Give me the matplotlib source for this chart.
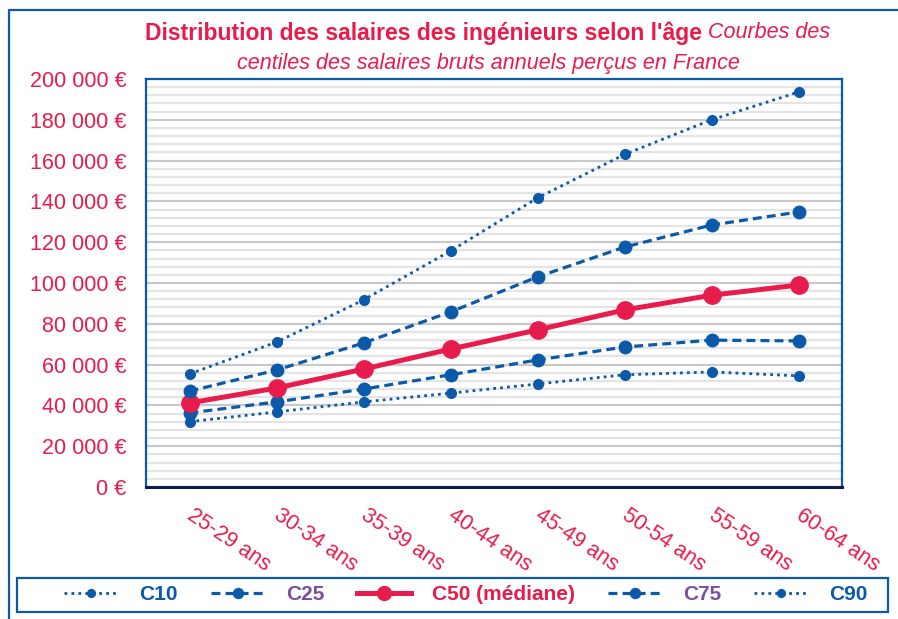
import matplotlib
matplotlib.use("Agg")
import matplotlib.pyplot as plt
import matplotlib.transforms as mtransforms
from matplotlib.lines import Line2D
from matplotlib.patches import Rectangle
from matplotlib.ticker import MultipleLocator, FuncFormatter

# données
ages = ["25-29 ans", "30-34 ans", "35-39 ans", "40-44 ans",
        "45-49 ans", "50-54 ans", "55-59 ans", "60-64 ans"]
c10 = [32000, 36800, 41700, 46000, 50500, 55000, 56400, 54500]
c25 = [36300, 41700, 48000, 55000, 62300, 68600, 72000, 71600]
c50 = [41200, 48500, 57800, 67600, 77000, 86800, 94000, 99000]
c75 = [47000, 57300, 70600, 85800, 103000, 117600, 128400, 134800]
c90 = [55400, 71000, 91700, 115700, 141700, 163000, 180000, 193600]

RED = "#e81c4c"
BLUE = "#0b5aa9"
PURPLE = "#7a4f9f"

plt.rcParams['font.family'] = ['Liberation Sans', 'DejaVu Sans']
TITLE_FONT = ['Liberation Sans Narrow', 'Liberation Sans', 'DejaVu Sans']

fig = plt.figure(figsize=(8.98, 6.19), dpi=100)
ax = fig.add_axes([146 / 898, 132 / 619, 696 / 898, 408 / 619])

x = range(len(ages))
dot = (1, 1.5)
dash = (2.8, 1.6)
ax.plot(x, c10, color=BLUE, lw=2, linestyle=(0, dot), marker='o', ms=7, label="C10")
ax.plot(x, c25, color=BLUE, lw=2.3, linestyle=(0, dash), marker='o', ms=9, label="C25")
ax.plot(x, c50, color=RED, lw=3.6, marker='o', ms=12.5, label="C50 (médiane)")
ax.plot(x, c75, color=BLUE, lw=2.3, linestyle=(0, dash), marker='o', ms=9, label="C75")
ax.plot(x, c90, color=BLUE, lw=2, linestyle=(0, dot), marker='o', ms=7, label="C90")

ax.set_xlim(-0.5, len(ages) - 0.5)
ax.set_ylim(0, 200000)
ax.yaxis.set_major_locator(MultipleLocator(20000))
ax.yaxis.set_minor_locator(MultipleLocator(4000))
ax.yaxis.set_major_formatter(FuncFormatter(lambda v, p: f"{int(v):,} €".replace(",", " ")))
ax.grid(axis='y', which='minor', color='#e4e4e4', lw=1.6, zorder=0)
ax.grid(axis='y', which='major', color='#c9c9c9', lw=1.6, zorder=0)
ax.set_axisbelow(True)

ax.set_xticks(list(x))
ax.set_xticklabels(ages, rotation=-34, ha='left', va='top', rotation_mode='anchor')
ax.tick_params(axis='x', length=0, pad=13, labelsize=15.5, labelcolor=RED)
ax.tick_params(axis='y', which='both', length=0, pad=14, labelsize=15.5, labelcolor=RED)
shift = mtransforms.ScaledTranslation(5 / 100, 0, fig.dpi_scale_trans)
for lab in ax.get_xticklabels():
    lab.set_transform(lab.get_transform() + shift)

for side in ['left', 'top', 'right']:
    ax.spines[side].set_color(BLUE)
    ax.spines[side].set_linewidth(1.6)
ax.spines['bottom'].set_color('#0d1b4d')
ax.spines['bottom'].set_linewidth(2.2)

# titre : partie grasse + partie italique sur la première ligne
r = fig.canvas.get_renderer()
y1 = 1 - 33 / 619
t1 = fig.text(0, y1, "Distribution des salaires des ingénieurs selon l'âge",
              family=TITLE_FONT, weight='bold', size=16.5, color=RED, va='center')
t2 = fig.text(0, y1, " Courbes des", family=TITLE_FONT, style='italic',
              size=15.5, color=RED, va='center')
w1 = t1.get_window_extent(r).width / fig.bbox.width
w2 = t2.get_window_extent(r).width / fig.bbox.width
x0 = 488 / 898 - (w1 + w2) / 2
t1.set_x(x0)
t2.set_x(x0 + w1)
fig.text(488 / 898, 1 - 63 / 619, "centiles des salaires bruts annuels perçus en France",
         family=TITLE_FONT, style='italic', size=15.5, color=RED, ha='center', va='center')

# cadre extérieur
fig.add_artist(Line2D([9 / 898, 9 / 898, 1.0], [0, 1 - 10 / 619, 1 - 10 / 619],
                      transform=fig.transFigure, color=BLUE, lw=1.6))

# légende : cadre dessiné à part, contenu resserré
fig.add_artist(Rectangle((17 / 898, 7 / 619), 871 / 898, 34 / 619, transform=fig.transFigure,
                         fill=False, edgecolor=BLUE, lw=1.6))
leg = fig.legend(loc='center', ncol=5, mode='expand',
                 bbox_to_anchor=(58 / 898, 7 / 619, 816 / 898, 34 / 619),
                 handlelength=2.6, handletextpad=1.0, columnspacing=1.5,
                 markerscale=0.8, frameon=False, borderpad=0.3, borderaxespad=0,
                 prop={'family': TITLE_FONT, 'weight': 'bold', 'size': 15})
for txt, c in zip(leg.get_texts(), [BLUE, PURPLE, RED, PURPLE, BLUE]):
    txt.set_color(c)

fig.savefig("out.png", dpi=100)
